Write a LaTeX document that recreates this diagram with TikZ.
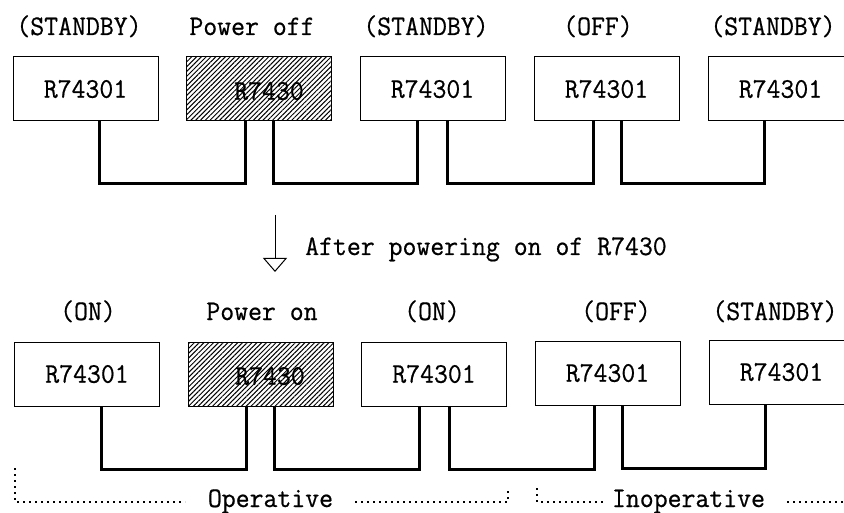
\documentclass[tikz,border=0pt]{standalone}
\usepackage{fontspec}
\usepackage{graphicx}
\setmonofont{Latin Modern Mono}[FakeBold=0.6]
\usetikzlibrary{arrows.meta,patterns.meta}
\newcommand\tx[1]{\scalebox{1}[1.05]{#1}}
\tikzset{
  box/.style={draw, line width=1pt, minimum width=145pt, minimum height=64pt, inner sep=0pt},
  hatchbox/.style={box, pattern={Lines[angle=45,distance=3.4pt,line width=1pt]}},
  conn/.style={line width=3pt, line join=miter},
  lab/.style={anchor=base, inner sep=0pt, font=\ttfamily\fontsize{27}{30}\selectfont},
  boxtext/.style={font=\ttfamily\fontsize{27}{30}\selectfont},
  dotline/.style={line width=1.1pt, dash pattern=on 1.6pt off 4.4pt}
}
\begin{document}
\begin{tikzpicture}[x=1pt,y=-1pt]
\useasboundingbox (0,0) rectangle (844,513);
\clip (0,0) rectangle (844,513);
\fill[white] (0,0) rectangle (844,513);
% ---------- top row ----------
\node[box, boxtext] (t1) at (85.5,89) {\tx{R74301}};
\node[hatchbox] (t2) at (259,89) {};
\node[boxtext, inner sep=0pt] (t2x) at (269,91) {\tx{R7430}};
\node[box, boxtext] (t3) at (432.5,89) {\tx{R74301}};
\node[box, boxtext] (t4) at (606.5,89) {\tx{R74301}};
\node[box, boxtext] (t5) at (780.5,89) {\tx{R74301}};
\node[lab] (l1) at (79,35) {\tx{(STANDBY)}};
\node[lab] (l2) at (252,35) {\tx{Power off}};
\node[lab] (l3) at (426,35) {\tx{(STANDBY)}};
\node[lab] (l4) at (598,35) {\tx{(OFF)}};
\node[lab] (l5) at (773,35) {\tx{(STANDBY)}};
\draw[conn] ([xshift=87pt]t1.south west) -- ++(0,62) -| ([xshift=59pt]t2.south west);
\draw[conn] ([xshift=87pt]t2.south west) -- ++(0,62) -| ([xshift=58pt]t3.south west);
\draw[conn] ([xshift=88pt]t3.south west) -- ++(0,62) -| ([xshift=60pt]t4.south west);
\draw[conn] ([xshift=88pt]t4.south west) -- ++(0,62) -| ([xshift=57pt]t5.south west);
% ---------- arrow ----------
\coordinate (a1) at (275,215);
\coordinate (a2) at (275,272);
\draw[line width=1pt, -{Triangle[open, length=14pt, width=24pt, line width=1pt]}] (a1) -- (a2);
\node[lab, anchor=base west] (after) at (305,255) {\tx{After powering on of R7430}};
% ---------- bottom row ----------
\node[box, boxtext] (b1) at (87,374) {\tx{R74301}};
\node[hatchbox] (b2) at (260.5,374) {};
\node[boxtext, inner sep=0pt] (b2x) at (270,376) {\tx{R7430}};
\node[box, boxtext] (b3) at (434,374) {\tx{R74301}};
\node[box, boxtext] (b4) at (607.5,373) {\tx{R74301}};
\node[box, boxtext] (b5) at (781.5,372) {\tx{R74301}};
\node[lab] (m1) at (88,320) {\tx{(ON)}};
\node[lab] (m2) at (262,320) {\tx{Power on}};
\node[lab] (m3) at (432,320) {\tx{(ON)}};
\node[lab] (m4) at (616,320) {\tx{(OFF)}};
\node[lab] (m5) at (775,320) {\tx{(STANDBY)}};
\draw[conn] ([xshift=87pt]b1.south west) -- ++(0,63) -| ([xshift=59pt]b2.south west);
\draw[conn] ([xshift=87pt]b2.south west) -- ++(0,63) -| ([xshift=58pt]b3.south west);
\draw[conn] ([xshift=88pt]b3.south west) -- ++(0,63) -| ([xshift=60pt]b4.south west);
\draw[conn] ([xshift=88pt]b4.south west) -- ++(0,63) -| ([xshift=57pt]b5.south west);
% ---------- operative / inoperative ----------
\node[lab] (op) at (270.5,507) {\tx{Operative}};
\node[lab] (inop) at (688.5,507) {\tx{Inoperative}};
\draw[dotline] (15,468) -- (15,502) -- (185,502);
\draw[dotline] (355,502) -- (508,502) -- (508,488);
\draw[dotline] (537,488) -- (537,502) -- (605,502);
\draw[dotline] (787,502) -- (844,502);
\end{tikzpicture}
\end{document}
